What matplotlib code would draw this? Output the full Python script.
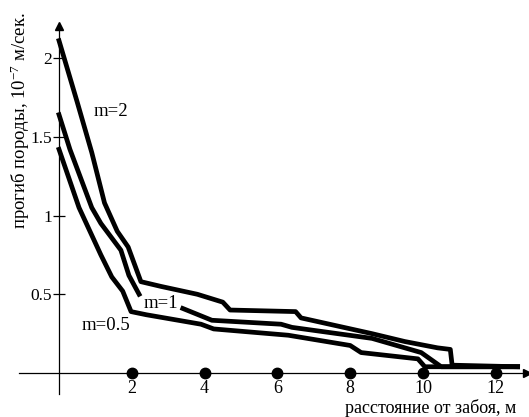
import numpy as np
import matplotlib
matplotlib.use("Agg")
import matplotlib.pyplot as plt

plt.rcParams['font.family'] = ['Liberation Serif', 'DejaVu Serif']
plt.rcParams['mathtext.fontset'] = 'custom'
plt.rcParams['mathtext.rm'] = 'Liberation Serif'
plt.rcParams['mathtext.it'] = 'Liberation Serif'

# curve m=2
x_m2 = [0, 0.5, 0.9, 1.25, 1.6, 1.9, 2.25, 2.8, 3.8, 4.5, 4.7, 6.5, 6.65,
        8.6, 9.5, 10.4, 10.75, 10.8, 12.6]
y_m2 = [2.11, 1.72, 1.40, 1.08, 0.90, 0.80, 0.58, 0.55, 0.50, 0.45, 0.40,
        0.39, 0.35, 0.25, 0.20, 0.16, 0.15, 0.05, 0.04]

# curve m=1 (broken where the label sits)
x_m1 = [0, 0.3, 0.9, 1.15, 1.7, 1.92, 2.2, np.nan, 3.4, 4.2, 6.1, 6.4,
        8.6, 9.95, 10.5, 12.6]
y_m1 = [1.64, 1.42, 1.05, 0.95, 0.78, 0.62, 0.50, np.nan, 0.41, 0.335, 0.31,
        0.29, 0.22, 0.13, 0.04, 0.04]

# curve m=0.5
x_m05 = [0, 0.55, 1.15, 1.45, 1.75, 1.98, 2.4, 3.9, 4.25, 6.3, 8.0, 8.3,
         9.86, 10.05, 12.6]
y_m05 = [1.42, 1.05, 0.75, 0.61, 0.52, 0.39, 0.37, 0.31, 0.28, 0.24, 0.175,
         0.13, 0.09, 0.04, 0.04]

xticks = [2, 4, 6, 8, 10, 12]
yticks = [0.5, 1, 1.5, 2]
ytick_labels = ['0.5', '1', '1.5', '2']

fig = plt.figure(figsize=(5.29, 4.17), dpi=100)
ax = fig.add_axes([0, 0, 1, 1])
ax.set_xlim(-1.621, 12.912)
ax.set_ylim(-0.279, 2.368)

for s in ['top', 'right']:
    ax.spines[s].set_visible(False)
ax.spines['left'].set_position(('data', 0))
ax.spines['bottom'].set_position(('data', 0))
ax.spines['left'].set_bounds(-0.13, 2.2)
ax.spines['bottom'].set_bounds(-1.1, 12.85)
for s in ['left', 'bottom']:
    ax.spines[s].set_linewidth(0.9)

# arrow heads
ax.plot([0], [2.2], marker='^', color='k', markersize=6, clip_on=False)
ax.plot([12.85], [0], marker='>', color='k', markersize=6, clip_on=False)

ax.set_yticks(yticks)
ax.set_yticklabels(ytick_labels, fontsize=12.5)
ax.tick_params(axis='y', direction='inout', length=8.5, width=0.9, pad=1)
ax.set_xticks(xticks)
ax.set_xticklabels([str(t) for t in xticks], fontsize=13)
ax.tick_params(axis='x', length=0, pad=5)

ax.plot(xticks, np.zeros(len(xticks)), 'o', color='k', markersize=7.5, zorder=5)

lw = 3.4
ax.plot(x_m2, y_m2, color='k', lw=lw)
ax.plot(x_m1, y_m1, color='k', lw=lw)
ax.plot(x_m05, y_m05, color='k', lw=lw)

ax.text(1.43, 1.66, 'm=2', fontsize=13.5, ha='center', va='center')
ax.text(2.8, 0.44, 'm=1', fontsize=13.5, ha='center', va='center')
ax.text(1.29, 0.30, 'm=0.5', fontsize=13.5, ha='center', va='center')

fig.text(516 / 529, 1 - 408 / 417, 'расстояние от забоя, м', fontsize=13,
         ha='right', va='center')
fig.text(20 / 529, 1 - 121 / 417, r'прогиб породы, 10$^{-7}$ м/сек.',
         fontsize=13.5, rotation=90, ha='center', va='center')

fig.savefig('out.png', dpi=100)
